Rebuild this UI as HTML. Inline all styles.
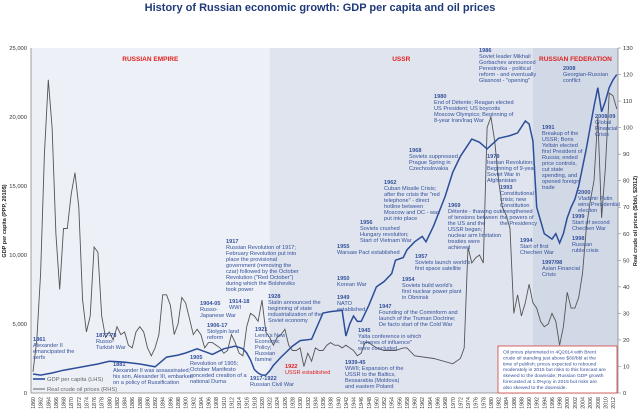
<!DOCTYPE html>
<html><head><meta charset="utf-8"><style>
body{margin:0;background:#fff;}
svg{display:block;font-family:"Liberation Sans",sans-serif;}
.an{fill:#34509a;font-size:5.6px;}
.an .yr{font-weight:bold;}
</style></head><body>
<svg id="chart" width="640" height="417" viewBox="0 0 640 417">
<text x="320" y="11" text-anchor="middle" font-size="11" font-weight="bold" fill="#1f3a7a">History of Russian economic growth: GDP per capita and oil prices</text>
<g id="bg"></g>
<g id="axes"></g>
<g id="series"></g>
<g id="annots"></g>
</svg>
<script>
const years = [1860,1862,1865,1868,1870,1875,1877,1880,1883,1885,1888,1890,1892,1895,1898,1900,1903,1905,1907,1910,1913,1915,1916,1917,1918,1919,1920,1921,1922,1923,1925,1928,1930,1933,1936,1938,1940,1941,1942,1943,1944,1945,1946,1948,1950,1952,1954,1955,1957,1958,1960,1962,1963,1965,1968,1970,1972,1975,1977,1979,1982,1985,1987,1989,1990,1991,1992,1993,1994,1996,1997,1998,1999,2000,2001,2002,2003,2004,2005,2006,2007,2008,2009,2010,2011,2012,2013];
const gdp = [1380,1300,1450,1650,1750,2000,2100,2300,2250,2200,2100,2000,1900,2600,2750,2900,3200,3000,2800,3200,3400,3200,2900,2400,1700,1450,1300,1300,1600,2000,2600,3400,3800,3900,5800,5900,5960,6000,4130,5000,5580,5190,5190,6350,7690,8080,8650,9620,9810,10380,10960,11350,10960,12120,14240,16000,17150,18400,18170,17690,18460,18650,18850,19710,19500,18270,13460,12500,11540,11150,11540,10870,11540,12690,13460,14040,15000,16350,17690,19230,20770,22120,20380,21150,22120,22690,23080];
const oilYears = [1860,1861,1862,1863,1864,1865,1866,1867,1868,1869,1870,1871,1872,1873,1874,1875,1876,1877,1878,1879,1880,1881,1882,1883,1884,1885,1886,1887,1888,1889,1890,1891,1892,1893,1894,1895,1896,1897,1898,1899,1900,1901,1902,1903,1904,1905,1906,1907,1908,1909,1910,1911,1912,1913,1914,1915,1916,1917,1918,1919,1920,1921,1922,1923,1924,1925,1926,1927,1928,1929,1930,1931,1932,1933,1934,1935,1936,1937,1938,1939,1940,1941,1942,1943,1944,1945,1946,1947,1948,1949,1950,1952,1955,1957,1958,1960,1965,1970,1972,1973,1974,1975,1976,1977,1978,1979,1980,1981,1982,1983,1984,1985,1986,1987,1988,1989,1990,1991,1992,1993,1994,1995,1996,1997,1998,1999,2000,2001,2002,2003,2004,2005,2006,2007,2008,2009,2010,2011,2012,2013];
const oil = [8,20,45,90,118,100,60,39,62,62,75,83,70,35,23,29,55,53,29,21,23,20,25,22,23,18,17,23,25,23,17,14,17,22,37,37,33,22,26,36,34,28,22,24,22,17,19,19,18,17,15,16,22,19,15,14,25,30,29,27,35,23,21,18,21,22,24,18,16,16,17,10,15,12,17,16,16,18,19,18,18,17,18,17,16,14,15,19,19,18,17,16,16,17,17,14,13,11,13,17,55,49,51,52,49,100,104,95,80,70,67,62,30,37,29,34,41,34,32,27,25,26,30,27,18,25,38,32,32,36,45,62,72,80,104,66,85,113,112,107];
const leftTicks = [0,5000,10000,15000,20000,25000];
const rightTicks = [0,10,20,30,40,50,60,70,80,90,100,110,120,130];
const eras = [["RUSSIAN EMPIRE",1860,1922,"#edf0f6"],["USSR",1922,1991,"#dfe4ee"],["RUSSIAN FEDERATION",1991,2013.5,"#d2d9e6"]];

const X0=31,X1=618,Y0=393,Y1=48;
const xs = y => 33 + (y-1860)*3.816;
const yL = v => Y0 - v*(Y0-Y1)/25000;
const yR = v => Y0 - v*(Y0-Y1)/130;
const NS="http://www.w3.org/2000/svg";
function mk(tag, parent, attrs){const e=document.createElementNS(NS,tag);for(const k in attrs)e.setAttribute(k,attrs[k]);parent.appendChild(e);return e;}
const bg=document.getElementById('bg'),ax=document.getElementById('axes'),se=document.getElementById('series'),an=document.getElementById('annots');

eras.forEach(([name,a,b,col],i)=>{
  const x0=i==0?X0:xs(a), x1=i==2?X1:xs(b);
  const r=mk('rect',bg,{x:x0,y:Y1,width:x1-x0,height:Y0-Y1,fill:col});
  
  
  const t=mk('text',bg,{x:(x0+x1)/2,y:61,'text-anchor':'middle','font-size':'6.5','font-weight':'bold',fill:'#e02020'});
  t.textContent=name;
  
  
});

mk('line',ax,{x1:X0,y1:Y1,x2:X0,y2:Y0,stroke:'#888','stroke-width':0.8});
mk('line',ax,{x1:X1,y1:Y1,x2:X1,y2:Y0,stroke:'#888','stroke-width':0.8});
mk('line',ax,{x1:X0,y1:Y0,x2:X1,y2:Y0,stroke:'#888','stroke-width':0.8});
leftTicks.forEach(v=>{
  const t=mk('text',ax,{x:27,y:yL(v)+2,'text-anchor':'end','font-size':'5.8',fill:'#333'});
  t.textContent=v.toLocaleString('en-US');
  
  
});
rightTicks.forEach(v=>{
  mk('line',ax,{x1:X1,y1:yR(v),x2:X1+3,y2:yR(v),stroke:'#888','stroke-width':0.6});
  const t=mk('text',ax,{x:623,y:yR(v)+2,'font-size':'5.8',fill:'#333'});
  t.textContent=v;
  
  
});
for(let y=1860;y<=2012;y+=2){
  const t=mk('text',ax,{x:0,y:0,'font-size':'5.3',fill:'#333','text-anchor':'end',transform:`translate(${xs(y)+2},${397}) rotate(-90)`});
  t.textContent=y;
  
  
}
let t=mk('text',ax,{x:0,y:0,'font-size':'5.5','font-weight':'bold',fill:'#222','text-anchor':'middle',transform:'translate(6,221) rotate(-90)'});
t.textContent='GDP per capita (PPP, 2010$)';


t=mk('text',ax,{x:0,y:0,'font-size':'5.5','font-weight':'bold',fill:'#222','text-anchor':'middle',transform:'translate(637,221) rotate(-90)'});
t.textContent='Real crude oil prices ($/bbl, $2012)';



const oilPath=mk('path',se,{d:oilYears.map((y,i)=>(i?'L':'M')+xs(y).toFixed(1)+','+yR(oil[i]).toFixed(1)).join(''),fill:'none',stroke:'#555','stroke-width':0.9});


const gdpPath=mk('path',se,{d:years.map((y,i)=>(i?'L':'M')+xs(y).toFixed(1)+','+yL(gdp[i]).toFixed(1)).join(''),fill:'none',stroke:'#2c4e9a','stroke-width':1.5});



mk('line',se,{x1:33,y1:379,x2:45,y2:379,stroke:'#2c4e9a','stroke-width':1.6});
mk('line',se,{x1:33,y1:389,x2:45,y2:389,stroke:'#555','stroke-width':0.9});
t=mk('text',se,{x:47,y:381,'font-size':'5.8',fill:'#666'});t.textContent='GDP per capita (LHS)';


t=mk('text',se,{x:47,y:391,'font-size':'5.8',fill:'#666'});t.textContent='Real crude oil prices (RHS)';



const nb=mk('rect',se,{x:498,y:346,width:119,height:47,fill:'#fff',stroke:'#d04040','stroke-width':0.8});


const note=["Oil prices plummeted in 4Q2014 with Brent","crude oil standing just above $60/bbl at the","time of publish; prices expected to rebound","moderately in 2015 but risks to this forecast are","skewed to the downside; Russian GDP growth","forecasted at 1.0%yoy in 2015 but risks are","also skewed to the downside."];
note.forEach((l,i)=>{const e=mk('text',se,{x:503,y:353.5+i*5.9,'font-size':'4.9',fill:'#34509a'});e.textContent=l;

});

const A=[
[33,341,"1861","Alexander II|emancipated the|serfs"],
[96,337,"1877-78","Russo-|Turkish War"],
[113,366,"1881","Alexander II was assassinated;|his son, Alexander III, embarked|on a policy of Russification"],
[200,305,"1904-05","Russo-|Japanese War"],
[207,327,"1906-17","Stolypin land|reform"],
[190,359,"1905","Revolution of 1905;|October Manifesto|conceded creation of a|national Duma"],
[229,303,"1914-18","WWI"],
[226,243,"1917","Russian Revolution of 1917;|February Revolution put into|place the provisional|government (removing the|czar) followed by the October|Revolution (\"Red October\")|during which the Bolsheviks|took power"],
[268,298,"1928","Stalin announced the|beginning of state|industrialization of the|Soviet economy"],
[255,331,"1921","Lenin's New|Economic|Policy;|Russian|famine"],
[250,380,"1917-1922","Russian Civil War"],
[358,332,"1945","Yalta conference in which|\"spheres of influence\"|were concluded"],
[345,364,"1939-45","WWII; Expansion of the|USSR to the Baltics,|Bessarabia (Moldova)|and eastern Poland"],
[379,308,"1947","Founding of the Cominform and|launch of the Truman Doctrine;|De facto start of the Cold War"],
[337,299,"1949","NATO|established"],
[337,280,"1950","Korean War"],
[402,281,"1954","Soviets build world's|first nuclear power plant|in Obninsk"],
[337,248,"1955","Warsaw Pact established"],
[415,258,"1957","Soviets launch world's|first space satellite"],
[360,224,"1956","Soviets crushed|Hungary revolution;|Start of Vietnam War"],
[384,184,"1962","Cuban Missile Crisis;|after the crisis the \"red|telephone\" - direct|hotline between|Moscow and DC - was|put into place"],
[409,152,"1968","Soviets suppressed|Prague Spring in|Czechoslovakia"],
[448,207,"1969","Détente - thawing out|of tensions between|the US and the|USSR began;|nuclear arm limitation|treaties were|achieved"],
[487,158,"1979","Iranian Revolution;|Beginning of 9-year|Soviet War in|Afghanistan"],
[434,98,"1980","End of Détente; Reagan elected|US President; US boycotts|Moscow Olympics; Beginning of|8-year Iran/Iraq War"],
[479,52,"1986","Soviet leader Mikhail|Gorbachev announced|Perestroika - political|reform - and eventually|Glasnost - \"opening\""],
[500,189,"1993","Constitutional|crisis; new|Constitution|strengthened|the powers of|the Presidency"],
[542,129,"1991","Breakup of the|USSR; Boris|Yeltsin elected|first President of|Russia; ended|price controls,|cut state|spending, and|opened foreign|trade"],
[520,242,"1994","Start of first|Chechen War"],
[542,264,"1997/98","Asian Financial|Crisis"],
[572,240,"1998","Russian|ruble crisis"],
[572,218,"1999","Start of second|Chechen War"],
[578,194,"2000","Vladimir Putin|wins Presidential|election"],
[563,70,"2008","Georgian-Russian|conflict"],
[595,118,"2008-09","Global|Financial|Crisis"]
];
A.forEach(([x,y,yr,body])=>{
  const g=mk('text',an,{x:x,y:y,class:'an'});
  
  
  const s=mk('tspan',g,{x:x,dy:0,class:'yr'});s.textContent=yr;
  body.split('|').forEach(l=>{const u=mk('tspan',g,{x:x,dy:6});u.textContent=l;});
});
const r=mk('text',an,{x:285,y:368,'font-size':'5.6',fill:'#e02020'});


let s1=mk('tspan',r,{x:285,dy:0,'font-weight':'bold'});s1.textContent='1922';
let s2=mk('tspan',r,{x:285,dy:6});s2.textContent='USSR established';
</script>
</body></html>
